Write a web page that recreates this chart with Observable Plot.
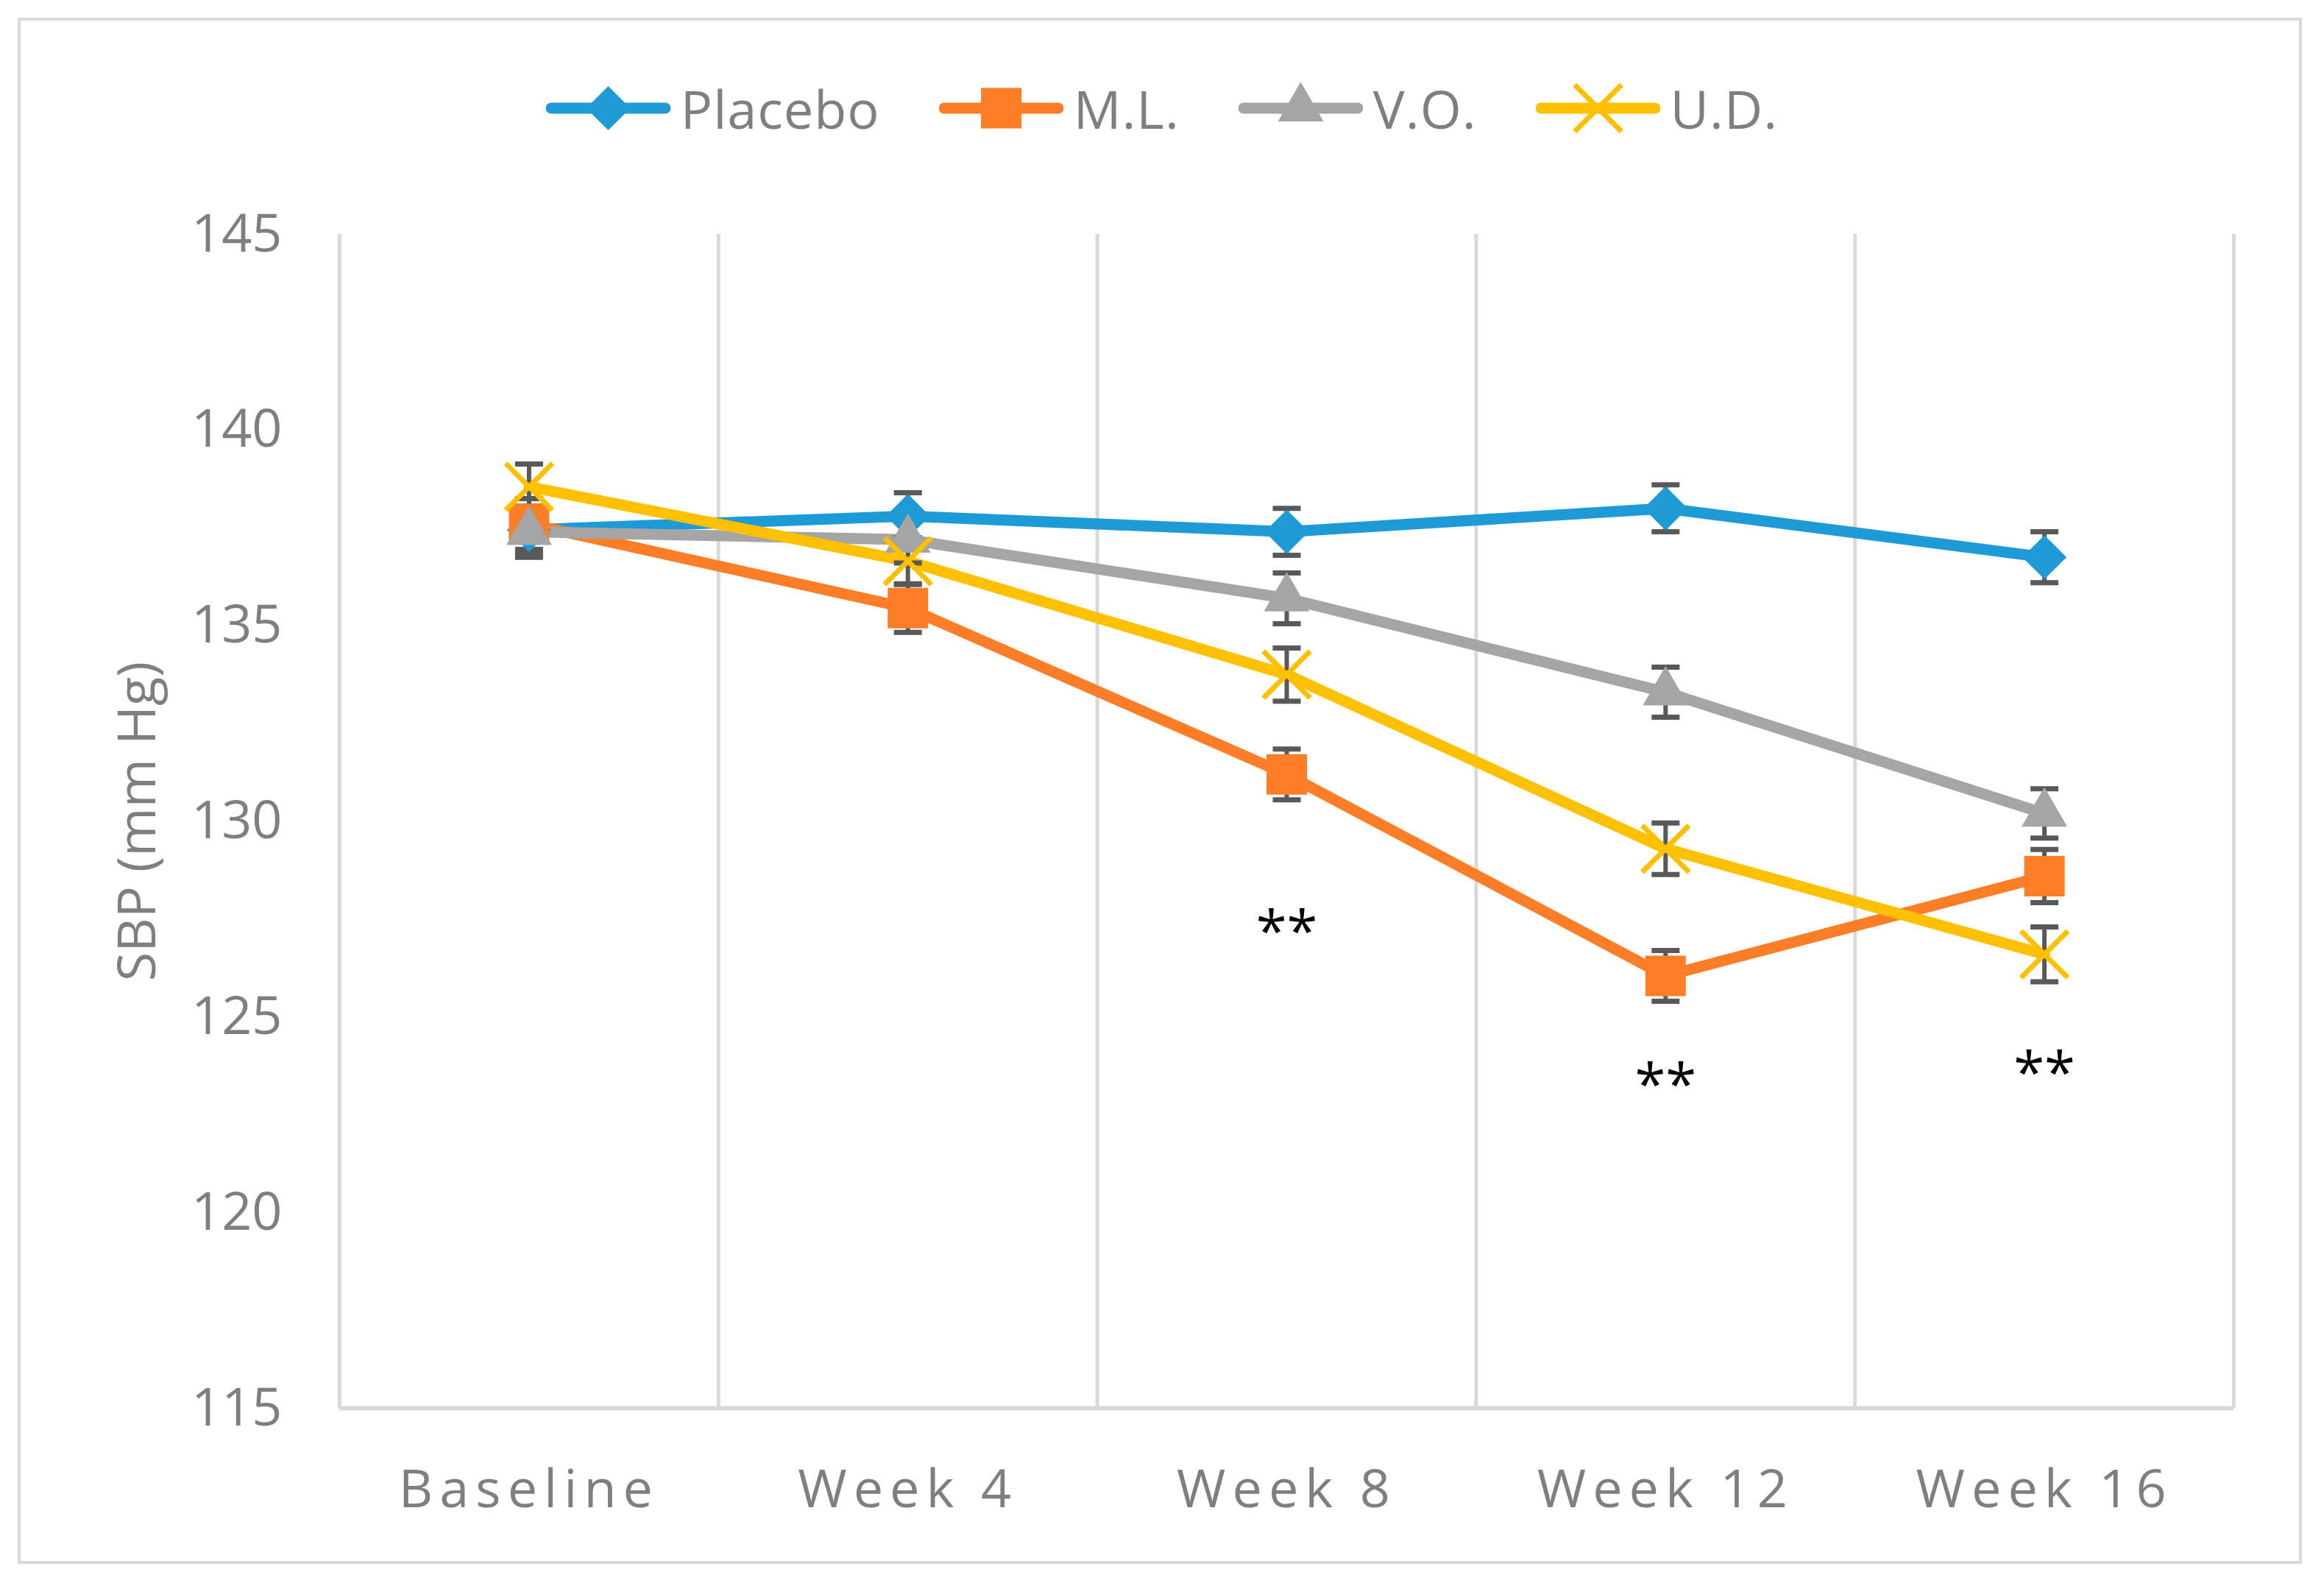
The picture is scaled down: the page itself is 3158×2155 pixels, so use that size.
<!DOCTYPE html>
<html><head><meta charset="utf-8">
<script src="https://cdn.jsdelivr.net/npm/d3@7"></script>
<script src="https://cdn.jsdelivr.net/npm/@observablehq/plot@0.6"></script>
<style>
html,body{margin:0;padding:0;background:#fff;}
body{width:3158px;height:2155px;position:relative;overflow:hidden;font-family:"Open Sans",sans-serif;}
#frame{position:absolute;left:24px;top:24px;width:3104px;height:2101px;border:4px solid #d9d9d9;box-sizing:border-box;pointer-events:none;}
#legend{height:230px;padding-top:64px;box-sizing:border-box;display:flex;justify-content:center;align-items:center;}
.item{display:flex;align-items:center;margin:0 40px;}
.item span{font-size:72px;color:#7f7f7f;margin-left:14px;line-height:1;letter-spacing:1px;}
#chart svg g[aria-label="x-axis tick label"] text{letter-spacing:9px;}
</style></head><body>
<div id="legend"></div><div id="chart"></div><div id="frame"></div>
<script>
const categories = ["Baseline", "Week 4", "Week 8", "Week 12", "Week 16"];
const seriesNames = ["Placebo", "M.L.", "V.O.", "U.D."];
const placebo = [137.45, 137.8, 137.4, 138.0, 136.75];
const ml = [137.6, 135.45, 131.2, 126.05, 128.6];
const vo = [137.4, 137.2, 135.7, 133.3, 130.2];
const ud = [138.55, 136.65, 133.75, 129.3, 126.6];
const placeboErr = [0.6, 0.6, 0.6, 0.6, 0.65];
const mlErr = [0.65, 0.62, 0.65, 0.65, 0.68];
const voErr = [0.65, 0.6, 0.65, 0.64, 0.63];
const udErr = [0.58, 0.6, 0.68, 0.66, 0.7];
const yTicks = [115, 120, 125, 130, 135, 140, 145];
const yLabel = "SBP (mm Hg)";
const annotCategories = ["Week 8", "Week 12", "Week 16"];
const annotValues = [127.5, 123.6, 123.9];
const annotText = "**";

const colors = ["#1e9bd7", "#fd7e27", "#a5a5a5", "#ffc000"];
const symbolNames = ["diamond2", "square", "triangle", "times"];
const d3Symbols = [d3.symbolDiamond2, d3.symbolSquare, d3.symbolTriangle, d3.symbolTimes];
const markerR = [27, 31, 23, 29];

const values = [placebo, ml, vo, ud];
const errs = [placeboErr, mlErr, voErr, udErr];
const rows = [];
seriesNames.forEach((s, k) => categories.forEach((c, i) => rows.push({series: s, cat: c, value: values[k][i], err: errs[k][i]})));
const xOf = d => categories.indexOf(d.cat) + 0.5;
const annots = annotCategories.map((c, i) => ({cat: c, value: annotValues[i]}));

const capSymbol = {draw(ctx, size) { const w = Math.sqrt(size / Math.PI); ctx.moveTo(-w, 0); ctx.lineTo(w, 0); }};

// Legend
const legend = d3.select("#legend");
seriesNames.forEach((s, k) => {
  const item = legend.append("div").attr("class", "item");
  const svg = item.append("svg").attr("width", 169).attr("height", 72);
  svg.append("line").attr("x1", 7).attr("x2", 162).attr("y1", 36).attr("y2", 36)
    .attr("stroke", colors[k]).attr("stroke-width", 15).attr("stroke-linecap", "round");
  const size = Math.PI * markerR[k] * markerR[k];
  const p = svg.append("path").attr("transform", "translate(84.5,36)").attr("d", d3.symbol(d3Symbols[k], size)());
  if (symbolNames[k] === "times") p.attr("fill", "none").attr("stroke", colors[k]).attr("stroke-width", 7);
  else p.attr("fill", colors[k]);
  item.append("span").text(s);
});

const marks = [
  Plot.ruleX(d3.range(categories.length + 1), {stroke: "#d9d9d9", strokeWidth: 5}),
  Plot.ruleY([115], {stroke: "#d9d9d9", strokeWidth: 6}),
  Plot.axisY({ticks: yTicks, tickSize: 0, tickPadding: 78, label: null}),
  Plot.axisX({ticks: categories.map((c, i) => i + 0.5), tickFormat: v => categories[Math.round(v - 0.5)], tickSize: 0, tickPadding: 83, label: null}),
  Plot.text([yLabel], {text: d => d, frameAnchor: "left", textAnchor: "middle", dx: -274, rotate: -90, fontSize: 72, fill: "#7f7f7f"}),
  Plot.line(rows, {x: xOf, y: "value", z: "series", stroke: "series", strokeWidth: 15, strokeLinejoin: "round", strokeLinecap: "round"}),
  Plot.ruleX(rows, {x: xOf, y1: d => d.value - d.err, y2: d => d.value + d.err, stroke: "#595959", strokeWidth: 6}),
  Plot.dot(rows, {x: xOf, y: d => d.value + d.err, symbol: capSymbol, r: 19, stroke: "#595959", strokeWidth: 7}),
  Plot.dot(rows, {x: xOf, y: d => d.value - d.err, symbol: capSymbol, r: 19, stroke: "#595959", strokeWidth: 7})
];
seriesNames.forEach((s, k) => {
  const data = rows.filter(d => d.series === s);
  if (symbolNames[k] === "times")
    marks.push(Plot.dot(data, {x: xOf, y: "value", symbol: symbolNames[k], r: markerR[k], stroke: colors[k], strokeWidth: 7}));
  else
    marks.push(Plot.dot(data, {x: xOf, y: "value", symbol: symbolNames[k], r: markerR[k], fill: colors[k], stroke: "none"}));
});
marks.push(Plot.text(annots, {x: xOf, y: "value", text: () => annotText, fontSize: 76, fill: "#000", dy: 20}));

const chart = Plot.plot({
  width: 3158,
  height: 1925,
  marginLeft: 461,
  marginRight: 123,
  marginTop: 88,
  marginBottom: 242,
  x: {type: "linear", domain: [0, categories.length]},
  y: {domain: [115, 145]},
  color: {domain: seriesNames, range: colors},
  style: {fontFamily: "Open Sans", fontSize: "72px", color: "#7f7f7f", background: "#fff", overflow: "visible"},
  marks
});
document.getElementById("chart").appendChild(chart);
</script>
</body></html>
